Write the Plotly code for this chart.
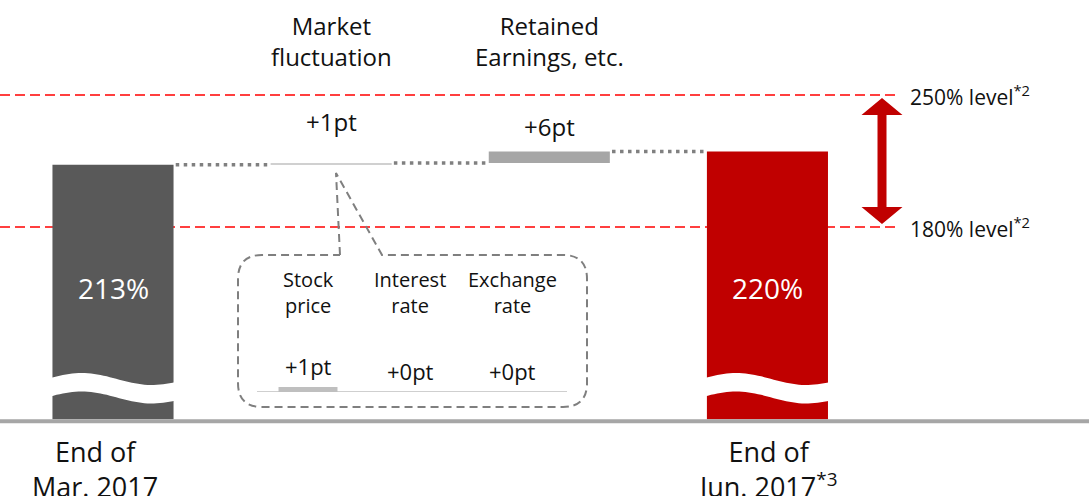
import numpy as np
import plotly.graph_objects as go

# ---------------- data ----------------
steps = ["End of Mar. 2017", "Market fluctuation", "Retained Earnings, etc.", "End of Jun. 2017"]
start_ratio = 213          # % at end of Mar. 2017
deltas = [1, 6]            # pt : market fluctuation, retained earnings etc.
end_ratio = 220            # % at end of Jun. 2017
bar_value_labels = ["213%", "220%"]
delta_labels = ["+1pt", "+6pt"]
top_labels = ["Market<br>fluctuation", "Retained<br>Earnings, etc."]
bottom_labels = ["End of<br>Mar. 2017", "End of<br>Jun. 2017<sup>*3</sup>"]
levels = [250, 180]
level_labels = ["250% level<sup>*2</sup>", "180% level<sup>*2</sup>"]
inset_cats = ["Stock<br>price", "Interest<br>rate", "Exchange<br>rate"]
inset_deltas = [1, 0, 0]
inset_labels = ["+1pt", "+0pt", "+0pt"]

# ---------------- layout constants ----------------
W, H = 1089, 496
FLOOR = 78                       # broken-axis floor
Y_RANGE = [37.35, 300.38]
X_RANGE = [-0.518, 4.474]
BAR_W = 0.555
DARK, RED, MID, LIGHT = "#595959", "#c00000", "#a6a6a6", "#d0d0d0"
FONT = "Open Sans"


def PX(x):
    return x / W


def PY(y):
    return 1 - y / H


cum = [start_ratio, start_ratio + deltas[0], start_ratio + deltas[0] + deltas[1]]

fig = go.Figure()

# main bars
fig.add_trace(go.Bar(x=[0], y=[start_ratio - FLOOR], base=[FLOOR], width=BAR_W,
                     marker=dict(color=DARK, line=dict(width=0)), hoverinfo="skip"))
fig.add_trace(go.Bar(x=[1], y=[deltas[0]], base=[cum[0]], width=BAR_W,
                     marker=dict(color=LIGHT, line=dict(width=0)), hoverinfo="skip"))
fig.add_trace(go.Bar(x=[2], y=[deltas[1]], base=[cum[1]], width=BAR_W,
                     marker=dict(color=MID, line=dict(width=0)), hoverinfo="skip"))
fig.add_trace(go.Bar(x=[3], y=[end_ratio - FLOOR], base=[FLOOR], width=BAR_W,
                     marker=dict(color=RED, line=dict(width=0)), hoverinfo="skip"))

# dotted connectors
for i in range(3):
    fig.add_trace(go.Scatter(x=[i + BAR_W / 2 + 0.01, i + 1 - BAR_W / 2 - 0.01], y=[cum[i], cum[i]],
                             mode="lines", line=dict(color="#808080", width=3.5, dash="3.5px,4.5px"),
                             hoverinfo="skip"))

# inset bars
fig.add_trace(go.Bar(x=list(range(len(inset_cats))), y=inset_deltas, xaxis="x2", yaxis="y2",
                     width=0.578, marker=dict(color="#bfbfbf", line=dict(width=0)), hoverinfo="skip"))

shapes = []
# level lines
for lv in levels:
    shapes.append(dict(type="line", xref="paper", yref="y", x0=0, x1=PX(897), y0=lv, y1=lv,
                       line=dict(color="#ff0000", width=1.5, dash="10px,5px"), layer="below"))

# baseline
shapes.append(dict(type="line", xref="paper", yref="y", x0=0, x1=1, y0=FLOOR - 1, y1=FLOOR - 1,
                   line=dict(color=MID, width=4)))

# wave breaks
for i in (0, 3):
    ts = np.linspace(0, 1, 41)
    x0, x1 = i - BAR_W / 2 - 0.01, i + BAR_W / 2 + 0.01
    xs = x0 + (x1 - x0) * ts
    top = 379 - 6 * np.sin(0.17 + 5.6 * ts)
    bot = top + 18.5
    pts = [(x, PY(y)) for x, y in zip(xs, top)] + [(x, PY(y)) for x, y in zip(xs[::-1], bot[::-1])]
    path = "M " + " L ".join(f"{a:.4f},{b:.4f}" for a, b in pts) + " Z"
    shapes.append(dict(type="path", xref="x", yref="paper", path=path,
                       fillcolor="white", line=dict(width=0)))

# double arrow between levels
ax, hw, sw, head, gap = 882, 20.5, 4.5, 9, 1.6
top_tip, bot_tip = levels[0] - gap, levels[1] + gap
arrow_pts = [
    (ax, top_tip), (ax + hw, top_tip - head), (ax + sw, top_tip - head),
    (ax + sw, bot_tip + head), (ax + hw, bot_tip + head), (ax, bot_tip),
    (ax - hw, bot_tip + head), (ax - sw, bot_tip + head), (ax - sw, top_tip - head),
    (ax - hw, top_tip - head),
]
shapes.append(dict(type="path", xref="paper", yref="y",
                   path="M " + " L ".join(f"{PX(a):.5f},{b:.3f}" for a, b in arrow_pts) + " Z",
                   fillcolor=RED, line=dict(width=0)))

# callout with rounded corners
L, R, T, B, rad = 238, 587, 255, 407, 24
pts = [("M", 340, T), ("L", 336, 173), ("L", 382, T), ("L", R - rad, T),
       ("Q", R, T, R, T + rad), ("L", R, B - rad), ("Q", R, B, R - rad, B),
       ("L", L + rad, B), ("Q", L, B, L, B - rad), ("L", L, T + rad),
       ("Q", L, T, L + rad, T), ("L", 340, T)]
seg = []
for p in pts:
    if p[0] == "Q":
        seg.append(f"Q {PX(p[1]):.5f},{PY(p[2]):.5f} {PX(p[3]):.5f},{PY(p[4]):.5f}")
    else:
        seg.append(f"{p[0]} {PX(p[1]):.5f},{PY(p[2]):.5f}")
shapes.append(dict(type="path", xref="paper", yref="paper", path=" ".join(seg),
                   line=dict(color="#7f7f7f", width=2, dash="8px,5px")))

# inset baseline
shapes.append(dict(type="line", xref="x2 domain", yref="y2", x0=0, x1=1, y0=0, y1=0,
                   line=dict(color="#bfbfbf", width=1.5)))

ann = []
txt = dict(family=FONT, color="#111111")
# values inside the stock bars
for k, i in enumerate((0, 3)):
    ann.append(dict(x=i, y=PY(288), xref="x", yref="paper", text=bar_value_labels[k], showarrow=False,
                    font=dict(size=28, family=FONT, color="white"), yanchor="middle"))
for k, i in enumerate((1, 2)):
    ann.append(dict(x=i, y=PY(41.5), xref="x", yref="paper", text=top_labels[k], showarrow=False,
                    font=dict(size=24, **txt), yanchor="middle"))
for k, i in enumerate((1, 2)):
    ann.append(dict(x=i, y=cum[k + 1], xref="x", yref="y", text=delta_labels[k],
                    showarrow=False, font=dict(size=24, **txt), yanchor="middle",
                    yshift=[41, 25][k]))
for k, i in enumerate((0, 3)):
    ann.append(dict(x=i, y=PY(468.5), xref="x", yref="paper", text=bottom_labels[k], showarrow=False,
                    font=dict(size=27, **txt), yanchor="middle", xshift=[-18, 0][k]))
for k, lv in enumerate(levels):
    ann.append(dict(x=PX(908), y=lv, xref="paper", yref="y", text=level_labels[k], showarrow=False,
                    font=dict(size=21, **txt), xanchor="left", yanchor="middle"))
for k, c in enumerate(inset_cats):
    ann.append(dict(x=k, y=PY(292.5), xref="x2", yref="paper", text=c, showarrow=False,
                    font=dict(size=20, **txt), yanchor="middle"))
    ann.append(dict(x=k, y=inset_deltas[k], xref="x2", yref="y2", text=inset_labels[k], showarrow=False,
                    font=dict(size=22, **txt), yanchor="middle", yshift=21))

fig.update_layout(
    width=W, height=H, autosize=False,
    margin=dict(l=0, r=0, t=0, b=0, pad=0),
    paper_bgcolor="white", plot_bgcolor="white",
    showlegend=False, barmode="overlay",
    xaxis=dict(range=X_RANGE, visible=False, fixedrange=True),
    yaxis=dict(range=Y_RANGE, visible=False, fixedrange=True),
    xaxis2=dict(domain=[PX(257), PX(567)], range=[-0.5, 2.539], anchor="y2", visible=False,
                fixedrange=True),
    yaxis2=dict(domain=[PY(392), PY(352)], range=[0, 8], anchor="x2", visible=False,
                fixedrange=True),
    shapes=shapes, annotations=ann,
    font=dict(family=FONT),
)

fig.write_html("out.html", config={"displayModeBar": False},
               post_script="document.body.style.margin='0';document.body.style.overflow='hidden';")
